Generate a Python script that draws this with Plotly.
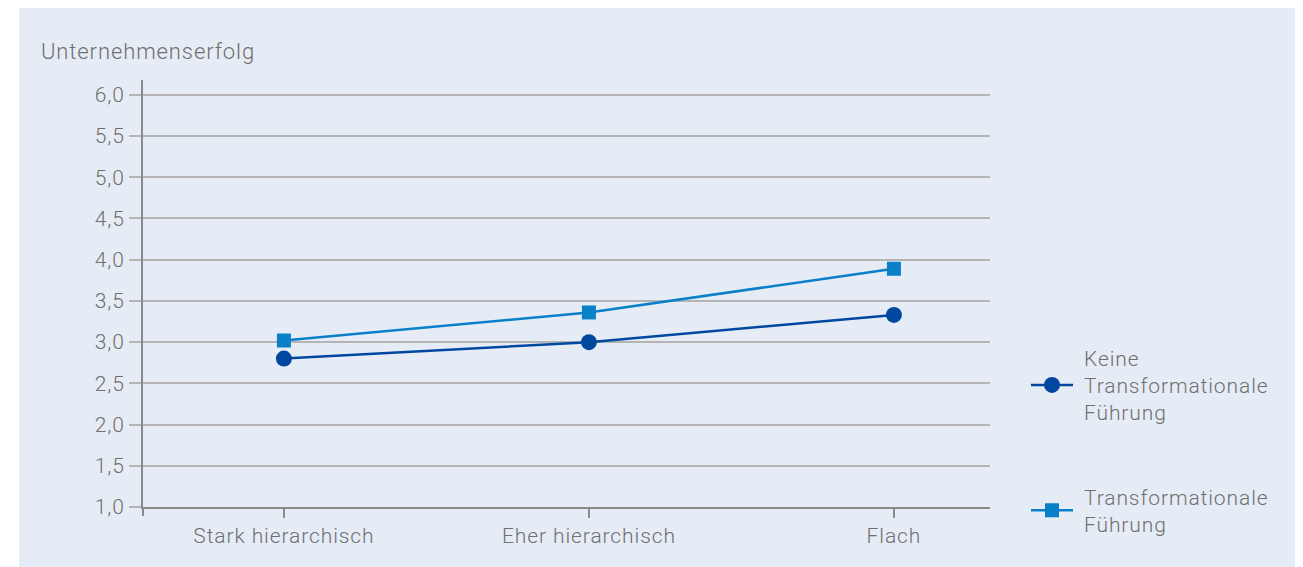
import plotly.graph_objects as go

categories = ["Stark hierarchisch", "Eher hierarchisch", "Flach"]
keine_tf = [2.80, 3.00, 3.33]
tf = [3.02, 3.36, 3.89]
y_ticks = [1.0, 1.5, 2.0, 2.5, 3.0, 3.5, 4.0, 4.5, 5.0, 5.5, 6.0]
y_ticklabels = ["1,0", "1,5", "2,0", "2,5", "3,0", "3,5", "4,0", "4,5", "5,0", "5,5", "6,0"]
series_names = ["\u00a0Keine<br>\u00a0Transformationale<br>\u00a0Führung",
                "\u00a0Transformationale<br>\u00a0Führung"]

OFF = 8  # default page body margin
W, H = 1303 - OFF, 567 - OFF
# plot area in reference-pixel coordinates
PL, PR, PT, PB = 143, 990, 80, 507
L, T = PL - OFF, PT - OFF
R = W - (PR - OFF)
B = H - (PB - OFF)
pw, ph = W - L - R, H - T - B

def px_x(p):
    return (p - OFF - L) / pw

def px_y(p):
    return (H - B - (p - OFF)) / ph

FONT = dict(family="Roboto", size=21, color="#707070", weight=300)

x_idx = list(range(len(categories)))

fig = go.Figure()
fig.add_trace(go.Scatter(
    x=x_idx, y=keine_tf, name=series_names[0], mode="lines+markers",
    line=dict(color="#0047a0", width=2.5),
    marker=dict(symbol="circle", size=16, color="#0047a0"),
    legendgroup="a",
))
fig.add_trace(go.Scatter(
    x=x_idx, y=tf, name=series_names[1], mode="lines+markers",
    line=dict(color="#0a80c8", width=2.5),
    marker=dict(symbol="square", size=14, color="#0a80c8"),
    legendgroup="b",
))

fig.update_layout(
    width=W, height=H,
    margin=dict(l=L, r=R, t=T, b=B),
    paper_bgcolor="white",
    plot_bgcolor="rgba(0,0,0,0)",
    font=FONT,
    showlegend=True,
    legend=dict(
        x=px_x(1026), y=px_y(441), xanchor="left", yanchor="middle",
        bgcolor="rgba(0,0,0,0)",
        traceorder="grouped", tracegroupgap=54, itemwidth=42,
    ),
    xaxis=dict(
        range=[-0.462, 2.315],
        tickvals=x_idx, ticktext=categories,
        showgrid=False, zeroline=False,
        showline=True, linecolor="#8a8a8a", linewidth=2,
        ticks="outside", ticklen=9, tickwidth=2, tickcolor="#8a8a8a",
    ),
    yaxis=dict(
        range=[1.0, 6.18],
        tickvals=y_ticks, ticktext=y_ticklabels,
        showgrid=True, gridcolor="#b4b4b4", gridwidth=1.5,
        zeroline=False,
        showline=True, linecolor="#8a8a8a", linewidth=2,
        ticks="outside", ticklen=12, tickwidth=1.5, tickcolor="#b4b4b4",
    ),
    shapes=[
        dict(type="rect", xref="paper", yref="paper",
             x0=px_x(19), x1=px_x(1303), y0=px_y(567), y1=px_y(6),
             fillcolor="#e6ecf6", line=dict(width=0), layer="below"),
        dict(type="line", xref="paper", yref="paper",
             x0=0, x1=0, y0=0, y1=px_y(516),
             line=dict(color="#8a8a8a", width=2)),
    ],
    annotations=[
        dict(text="Unternehmenserfolg", xref="paper", yref="paper",
             x=px_x(39), y=px_y(52), xanchor="left", yanchor="middle",
             showarrow=False, font=dict(size=22)),
    ],
)

post = """
var s = document.createElement('style');
s.textContent = 'svg text { letter-spacing: 0.9px; }';
document.head.appendChild(s);
var gd = document.getElementById('{plot_id}');
Plotly.relayout(gd, {'font.color': '#6f6f6f'});
"""

fig.write_html("out.html", post_script=post)
